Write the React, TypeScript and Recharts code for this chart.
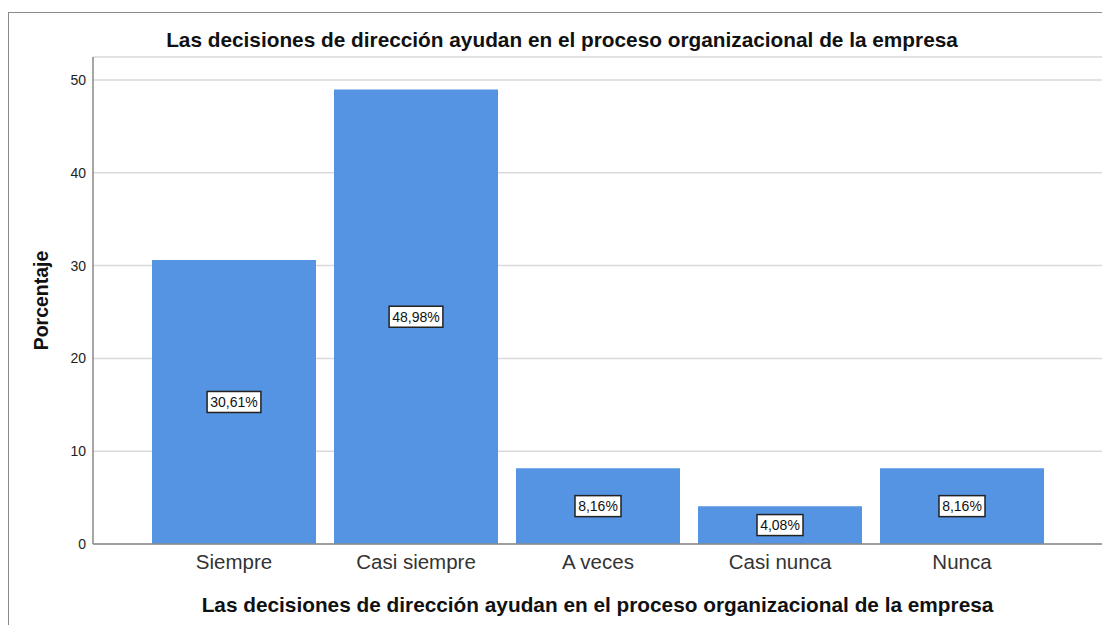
import React from "react";
import { BarChart, Bar, XAxis, YAxis, CartesianGrid, LabelList } from "recharts";

const categories = ["Siempre", "Casi siempre", "A veces", "Casi nunca", "Nunca"];
const percentages = [30.61, 48.98, 8.16, 4.08, 8.16];
const yTicks = [0, 10, 20, 30, 40, 50];

const data = categories.map((name, i) => ({ name, value: percentages[i] }));

const FONT = "'Liberation Sans', Arial, sans-serif";
const BAR_COLOR = "#5594e2";
const TITLE = "Las decisiones de dirección ayudan en el proceso organizacional de la empresa";

const fmt = (v: number) => v.toFixed(2).replace(".", ",") + "%";

function ValueBox(props: any) {
  const { x, y, width, height, value } = props;
  const cx = x + width / 2;
  const cy = y + height / 2;
  const text = fmt(value);
  const w = text.length * 7.8 + 7;
  const h = 21;
  return (
    <g>
      <rect x={cx - w / 2} y={cy - h / 2} width={w} height={h} fill="#fff" stroke="#222" strokeWidth={1.5} />
      <text x={cx} y={cy + 5} textAnchor="middle" fontSize={14} fontFamily={FONT} fill="#111">
        {text}
      </text>
    </g>
  );
}

export default function App() {
  return (
    <div style={{ position: "absolute", left: 0, top: 0, width: 1102, height: 625, background: "#fff", overflow: "hidden", fontFamily: FONT }}>
      <div style={{ position: "absolute", left: 8, top: 12, width: 1200, height: 700, border: "1.5px solid #8a8a8a" }} />
      <div style={{ position: "absolute", left: 0, top: 28, width: 1124, textAlign: "center", fontSize: 20.8, fontWeight: "bold", color: "#111" }}>
        {TITLE}
      </div>
      <div style={{ position: "absolute", left: 0, top: 0 }}>
        <BarChart width={1102} height={625} data={data} margin={{ top: 57, right: 0, bottom: 0, left: 0 }}>
          <CartesianGrid vertical={false} stroke="#d9d9d9" strokeWidth={1.5} />
          <XAxis
            dataKey="name"
            height={81}
            padding={{ left: 50, right: 49 }}
            tickLine={false}
            axisLine={{ stroke: "#888", strokeWidth: 1.5 }}
            tick={{ fill: "#333", fontSize: 20.5, fontFamily: FONT }}
            tickMargin={4}
            label={{ value: TITLE, position: "insideBottom", offset: 13, fill: "#111", fontSize: 20.8, fontWeight: "bold", fontFamily: FONT }}
          />
          <YAxis
            width={93}
            domain={[0, 52.48]}
            ticks={yTicks}
            allowDataOverflow
            tickLine={false}
            tickMargin={1}
            axisLine={{ stroke: "#888", strokeWidth: 1.5 }}
            tick={{ fill: "#222", fontSize: 14, fontFamily: FONT }}
            label={{ value: "Porcentaje", angle: -90, position: "center", dx: -5, fill: "#111", fontSize: 19.5, fontWeight: "bold", fontFamily: FONT }}
          />
          <Bar dataKey="value" fill={BAR_COLOR} barSize={164} isAnimationActive={false}>
            <LabelList dataKey="value" content={<ValueBox />} />
          </Bar>
        </BarChart>
      </div>
    </div>
  );
}
